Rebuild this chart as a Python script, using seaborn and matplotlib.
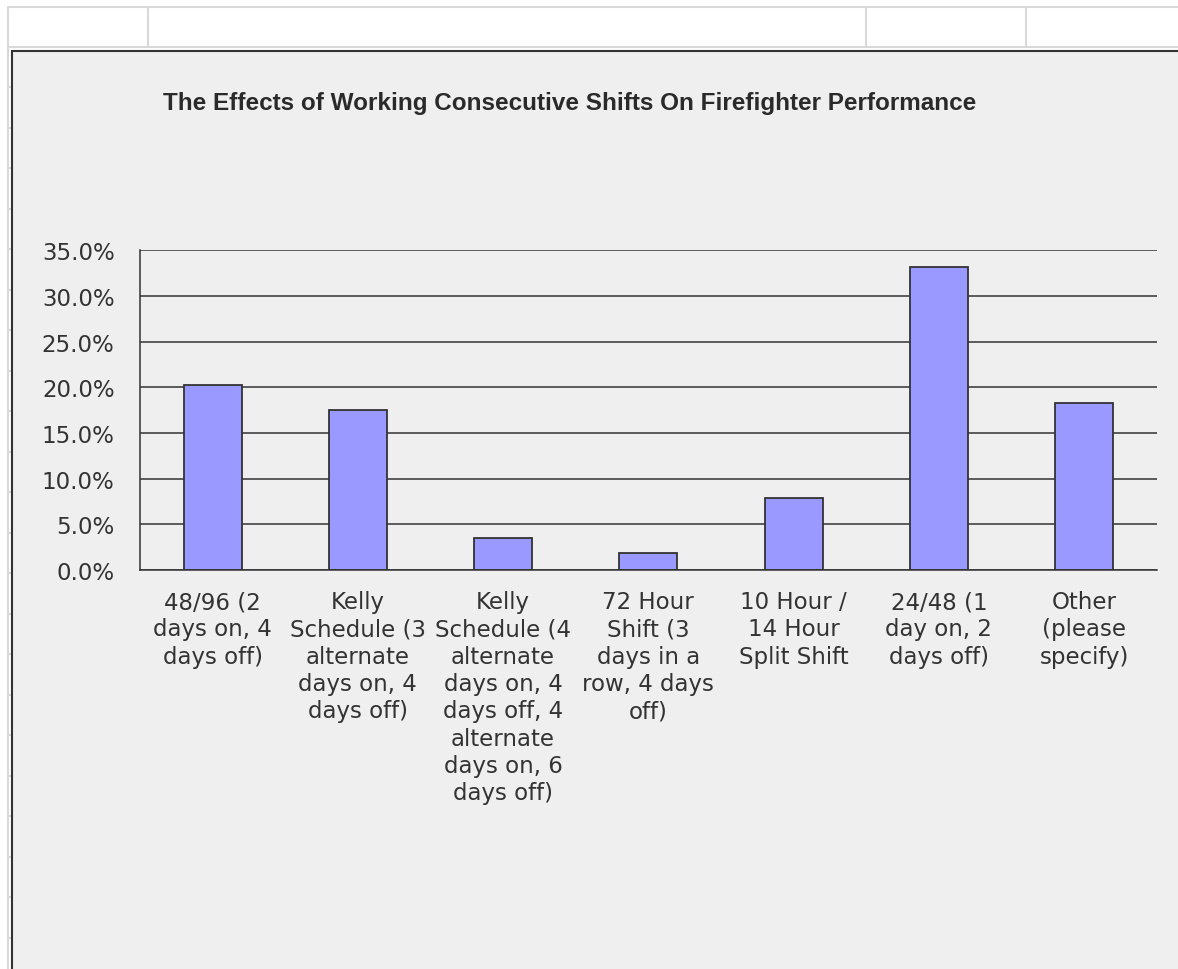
import numpy as np
import pandas as pd
import matplotlib
matplotlib.use("Agg")
import matplotlib.pyplot as plt
from matplotlib.lines import Line2D
from matplotlib.patches import Rectangle
from matplotlib.ticker import FuncFormatter
import seaborn as sns

# ---- data ----
categories = [
    "48/96 (2\ndays on, 4\ndays off)",
    "Kelly\nSchedule (3\nalternate\ndays on, 4\ndays off)",
    "Kelly\nSchedule (4\nalternate\ndays on, 4\ndays off, 4\nalternate\ndays on, 6\ndays off)",
    "72 Hour\nShift (3\ndays in a\nrow, 4 days\noff)",
    "10 Hour /\n14 Hour\nSplit Shift",
    "24/48 (1\nday on, 2\ndays off)",
    "Other\n(please\nspecify)",
]
values = [0.202, 0.175, 0.035, 0.019, 0.079, 0.332, 0.183]
y_ticks = [0.0, 0.05, 0.10, 0.15, 0.20, 0.25, 0.30, 0.35]
title = "The Effects of Working Consecutive Shifts On Firefighter Performance"

sns.set_style("white")
plt.rcParams["font.family"] = ["DejaVu Sans"]

W, H = 1178, 970
fig = plt.figure(figsize=(W / 100, H / 100), dpi=100)
fig.patch.set_facecolor("white")


def fx(x):
    return x / W


def fy(y):
    return 1 - y / H


grid_c = "#D9D9D9"
# spreadsheet cell grid
fig.add_artist(Line2D([fx(8), 1], [fy(8), fy(8)], color=grid_c, lw=1.5, transform=fig.transFigure, zorder=-3))
fig.add_artist(Line2D([fx(8), 1], [fy(48), fy(48)], color=grid_c, lw=1.5, transform=fig.transFigure, zorder=-3))
fig.add_artist(Line2D([fx(8), fx(8)], [fy(8), 0], color=grid_c, lw=1.5, transform=fig.transFigure, zorder=-3))
for cx in [148, 866, 1026]:
    fig.add_artist(Line2D([fx(cx), fx(cx)], [fy(8), fy(48)], color=grid_c, lw=1.5, transform=fig.transFigure, zorder=-3))
for ry in np.arange(88, H, 40.5):
    fig.add_artist(Line2D([fx(8), fx(11)], [fy(ry), fy(ry)], color=grid_c, lw=1.5, transform=fig.transFigure, zorder=-3))

# chart area
fig.add_artist(Rectangle((fx(11.5), fy(H + 20)), fx(W + 20) - fx(11.5), fy(51.5) - fy(H + 20),
                         facecolor="#EFEFEF", edgecolor="#333333", lw=1.5,
                         transform=fig.transFigure, zorder=-1))

fig.text(fx(570), fy(104), title, ha="center", va="center", fontsize=17.5, fontweight="bold",
         family=["Liberation Sans", "DejaVu Sans"], color="#2a2a2a")

ax = fig.add_axes([fx(140), fy(571), (1156.7 - 140) / W, 320 / H])
ax.set_facecolor("none")
df = pd.DataFrame({"category": categories, "share": values})
sns.barplot(data=df, x="category", y="share", color="#9999FF", saturation=1,
            edgecolor="#333333", linewidth=1.3, width=0.4, ax=ax)

ax.set_xlim(-0.5, 6.5)
ax.set_ylim(0, 0.3502)
ax.set_yticks(y_ticks)
ax.yaxis.set_major_formatter(FuncFormatter(lambda v, p: f"{v * 100:.1f}%"))
ax.yaxis.grid(True, color="#333333", lw=1.1)
ax.set_axisbelow(True)
ax.set_xlabel("")
ax.set_ylabel("")

ax.set_xticks(range(len(categories)))
ax.set_xticklabels(categories, fontsize=16.5, color="#333333", linespacing=1.24)
ax.set_xticks(np.arange(-0.5, len(categories), 1), minor=True)
ax.tick_params(axis="x", which="major", length=0, pad=14.5)
ax.tick_params(axis="x", which="minor", length=5, width=1.1, color="#333333", direction="out")
ax.tick_params(axis="y", length=5.8, width=1.1, color="#333333", pad=12.5,
               labelsize=16.5, labelcolor="#333333", direction="out")
for s in ["top", "right"]:
    ax.spines[s].set_visible(False)
for s in ["left", "bottom"]:
    ax.spines[s].set_color("#333333")
    ax.spines[s].set_linewidth(1.1)

fig.savefig("out.png", dpi=100)
